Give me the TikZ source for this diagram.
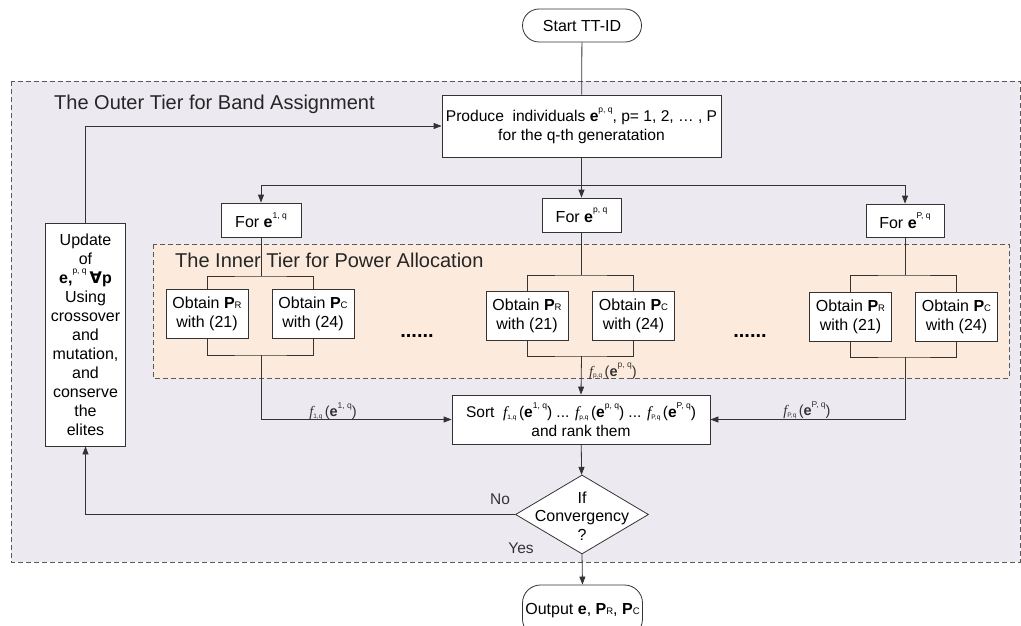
\documentclass[tikz,border=0pt]{standalone}
\usepackage{fontspec}
\setmainfont{Liberation Sans}
\newfontfamily\serifF{Liberation Serif}
\newfontfamily\dvsF{DejaVu Sans}
\usetikzlibrary{shapes.geometric,arrows.meta}
\definecolor{outerfill}{HTML}{ECE9F0}
\definecolor{innerfill}{HTML}{FCEBDC}
\definecolor{linec}{HTML}{333333}
\definecolor{dashc}{HTML}{5A5A5A}
\newcommand{\vecE}[1]{\textbf{e}\raisebox{0.6em}{\fontsize{8.5}{8.5}\selectfont #1}}
\newcommand{\fitF}[2]{{\serifF\itshape f}\raisebox{-0.1em}{\fontsize{6.5}{6.5}\selectfont #1}\,(\vecE{#2})}
\newcommand{\powP}[1]{\textbf{P}{\fontsize{9.5}{9.5}\selectfont #1}}
\begin{document}
\begin{tikzpicture}[x=1pt,y=-1pt,
  box/.style={draw=linec,fill=white,line width=0.8pt,inner sep=0pt,align=center,font=\fontsize{16}{19}\selectfont},
  conn/.style={draw=linec,line width=0.8pt},
  arr/.style={conn,-{Triangle[length=8pt,width=6pt]}},
  zone/.style={draw=dashc,line width=0.9pt,dash pattern=on 5pt off 3pt},
  lbl/.style={inner sep=0pt,font=\fontsize{14.5}{16}\selectfont,text=linec},
  title/.style={inner sep=0pt,anchor=west,font=\fontsize{20}{22}\selectfont,text=black!85}]
\useasboundingbox (0,0) rectangle (1021,626);
% zones
\draw[zone,fill=outerfill] (11,81) rectangle (1020,562);
\draw[zone,fill=innerfill] (153,244) rectangle (1009,378);
\node[title] (outert) at (54,104) {The Outer Tier for Band Assignment};
\node[title] (innert) at (175,260) {The Inner Tier for Power Allocation};
% nodes
\node[box,rounded corners=16.5pt,minimum width=119pt,minimum height=33pt] (start) at (582,25.5) {Start TT-ID};
\node[box,minimum width=279pt,minimum height=62pt,font=\fontsize{15.6}{19}\selectfont] (produce) at (581.5,126) {Produce\ \ individuals \vecE{p, q}, p= 1, 2, … , P\\for the q-th generatation};
\node[box,minimum width=80pt,minimum height=34pt] (for1) at (261,220) {For \vecE{1, q}};
\node[box,minimum width=79pt,minimum height=34pt] (forp) at (581.5,215) {For \vecE{p, q}};
\node[box,minimum width=78pt,minimum height=33pt] (forP) at (905,220.5) {For \vecE{P, q}};
\node[box,minimum width=80pt,minimum height=223pt] (update) at (85.5,334.5) {Update\\of\\\textbf{e,}\raisebox{0.6em}{\fontsize{8.5}{8.5}\selectfont p, q}\hspace{3pt}{\dvsF\bfseries ∀}\textbf{p}\\Using\\crossover\\and\\mutation,\\and\\conserve\\the\\elites};
\node[box,minimum width=82pt,minimum height=49pt] (r1) at (207,313.5) {Obtain \powP{R}\\with (21)};
\node[box,minimum width=82pt,minimum height=49pt] (c1) at (313,313.5) {Obtain \powP{C}\\with (24)};
\node[box,minimum width=82pt,minimum height=49pt] (rp) at (527,315.5) {Obtain \powP{R}\\with (21)};
\node[box,minimum width=82pt,minimum height=49pt] (cp) at (633.5,315.5) {Obtain \powP{C}\\with (24)};
\node[box,minimum width=82pt,minimum height=49pt] (rP) at (850.5,316.5) {Obtain \powP{R}\\with (21)};
\node[box,minimum width=82pt,minimum height=49pt] (cP) at (956.5,316.5) {Obtain \powP{C}\\with (24)};
\node[box,minimum width=258pt,minimum height=49pt,font=\fontsize{15.5}{19}\selectfont] (sort) at (581,419.5) {Sort\ \ \fitF{1,q}{1, q} ... \fitF{p,q}{p, q} ... \fitF{P,q}{P, q}\\and rank them};
\node[draw=linec,fill=white,line width=0.8pt,diamond,inner sep=0pt,minimum width=133pt,minimum height=79pt] (dia) at (582,514.5) {};
\node[inner sep=0pt,align=center,font=\fontsize{16}{18.5}\selectfont] (diatext) at (582,516) {If\\Convergency\\?};
\node[box,rounded corners=18pt,minimum width=120pt,minimum height=52pt] (output) at (582.5,611) {Output \textbf{e}, \powP{R}, \powP{C}};
% dots
\node[inner sep=0pt,font=\bfseries\fontsize{20}{20}\selectfont] (dots1) at (417,336) {......};
\node[inner sep=0pt,font=\bfseries\fontsize{20}{20}\selectfont] (dots2) at (750,336) {......};
% junction coordinates
\coordinate (split) at (581.5,185);
\coordinate (t1) at (261,276);
\coordinate (b1) at (261,355);
\coordinate (tp) at (581.5,275);
\coordinate (bp) at (581.5,356);
\coordinate (tP) at (905,275);
\coordinate (bP) at (905,357);
% connectors
\draw[conn] (start) -- (produce);
\draw[conn] (produce) -- (split);
\draw[arr] (split) -| (for1);
\draw[arr] (split) -- (forp);
\draw[arr] (split) -| (forP);
\draw[conn] (for1) -- (t1);
\draw[conn] (r1.north) |- (t1) -| (c1.north);
\draw[conn] (r1.south) |- (b1) -| (c1.south);
\draw[conn] (forp) -- (tp);
\draw[conn] (rp.north) |- (tp) -| (cp.north);
\draw[conn] (rp.south) |- (bp) -| (cp.south);
\draw[conn] (forP) -- (tP);
\draw[conn] (rP.north) |- (tP) -| (cP.north);
\draw[conn] (rP.south) |- (bP) -| (cP.south);
\draw[arr] (b1) |- (sort.west);
\draw[arr] (bp) -- (sort.north);
\draw[arr] (bP) |- (sort.east);
\draw[arr] (sort) -- (dia);
\draw[arr] (dia.west) -| (update.south);
\draw[arr] (update.north) |- (produce.west);
\draw[arr] (dia.south) -- (output.north);
% labels
\node[lbl] (l1) at (333,411) {\fitF{1,q}{1, q}};
\node[lbl,anchor=west] (lp) at (589,371) {\fitF{p,q}{p, q}};
\node[lbl] (lP) at (807,410) {\fitF{P,q}{P, q}};
\node[lbl,font=\fontsize{15.5}{17}\selectfont] (no) at (500,499) {No};
\node[lbl,font=\fontsize{15.5}{17}\selectfont] (yes) at (521,548) {Yes};
\end{tikzpicture}
\end{document}
